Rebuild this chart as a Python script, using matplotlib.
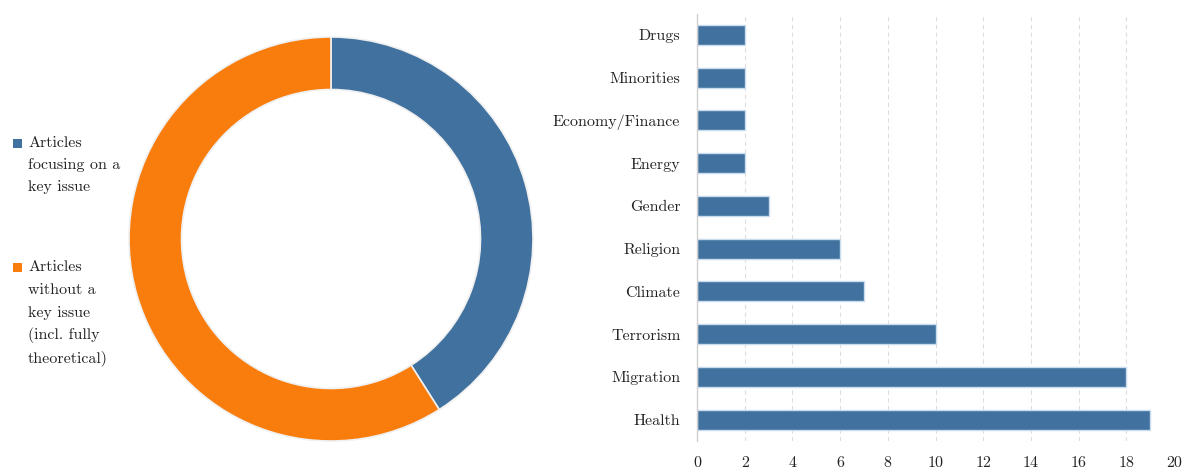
import matplotlib
matplotlib.use("Agg")
import matplotlib.pyplot as plt
from matplotlib.patches import Rectangle

plt.rcParams['font.family'] = ['cmr10', 'DejaVu Serif']
plt.rcParams['axes.formatter.use_mathtext'] = True

# Data
pie_labels = ["Articles\nfocusing on a\nkey issue",
              "Articles\nwithout a\nkey issue\n(incl. fully\ntheoretical)"]
pie_values = [41, 59]
pie_colors = ["#41729F", "#F97D0C"]

categories = ["Drugs", "Minorities", "Economy/Finance", "Energy", "Gender",
              "Religion", "Climate", "Terrorism", "Migration", "Health"]
counts = [2, 2, 2, 2, 3, 6, 7, 10, 18, 19]
xticks = [0, 2, 4, 6, 8, 10, 12, 14, 16, 18, 20]

W, H = 1200, 472
fig = plt.figure(figsize=(W / 100, H / 100), dpi=100)

# Donut
axp = fig.add_axes([(331 - 202) / W, (H - 441) / H, 404 / W, 404 / H])
axp.pie(pie_values, colors=pie_colors, startangle=90, counterclock=False,
        radius=1.0, wedgeprops=dict(width=0.26, edgecolor="#f0f0f0", linewidth=1.2))
axp.set_aspect("equal")
axp.set_xlim(-1, 1)
axp.set_ylim(-1, 1)
axp.axis("off")

# Manual legend
legend_tops = [143, 267]
line_gap = [22, 22.8]
fs = 11.5
for lab, col, ytop, gap in zip(pie_labels, pie_colors, legend_tops, line_gap):
    fig.patches.append(Rectangle((13 / W, (H - ytop - 4.5) / H), 8.5 / W, 8.5 / H,
                                 transform=fig.transFigure, facecolor=col,
                                 edgecolor="none"))
    for i, line in enumerate(lab.split("\n")):
        fig.text(28 / W, (H - ytop - i * gap) / H, line, fontsize=fs,
                 va="center", ha="left", color="#222222")

# Bars
axb = fig.add_axes([697 / W, (H - 441) / H, 477 / W, 427.4 / H])
ypos = list(range(len(categories)))
axb.barh(ypos, counts, height=0.47, color="#41729F", edgecolor="#c8dcee",
         linewidth=1.0, zorder=3)
axb.set_yticks(ypos)
axb.set_yticklabels(categories, fontsize=fs, color="#222222")
axb.set_ylim(len(categories) - 0.5, -0.5)
axb.set_xlim(0, 20)
axb.set_xticks(xticks)
axb.set_xticklabels([str(v) for v in xticks], fontsize=fs, color="#222222")
axb.tick_params(axis="both", length=0)
axb.tick_params(axis="x", pad=11)
axb.tick_params(axis="y", pad=12)
axb.grid(axis="x", linestyle=(0, (4, 3)), color="#dedede", linewidth=0.8, zorder=0)
for s in ["top", "right", "bottom"]:
    axb.spines[s].set_visible(False)
axb.spines["left"].set_color("#d0d0d0")
axb.spines["left"].set_linewidth(1.0)
axb.spines["left"].set_zorder(4)

fig.savefig("out.png", dpi=100, facecolor="white")
